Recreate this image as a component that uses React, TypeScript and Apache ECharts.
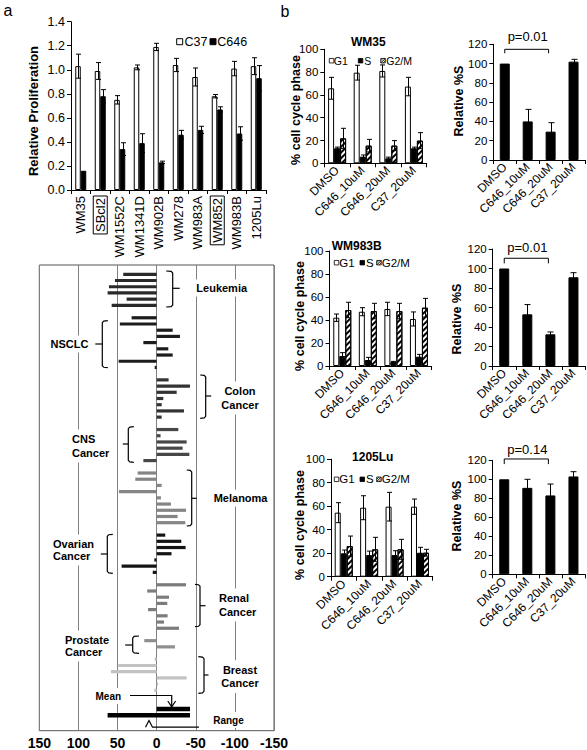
import React, { useEffect, useRef } from 'react';
import * as echarts from 'echarts';

const FONT = '"Liberation Sans", Arial, Helvetica, sans-serif';

// ---------- Panel a (top): relative proliferation ----------
const cellLines = ['WM35', 'SBcl2', 'WM1552C', 'WM1341D', 'WM902B', 'WM278', 'WM983A', 'WM852', 'WM983B', '1205Lu'];
const boxedLines = ['SBcl2', 'WM852'];
const c37 = [1.03, 0.99, 0.75, 1.02, 1.19, 1.04, 0.94, 0.78, 1.01, 1.03];
const c37Err = [0.1, 0.07, 0.035, 0.02, 0.03, 0.055, 0.075, 0.014, 0.06, 0.07];
const c646 = [0.16, 0.78, 0.34, 0.39, 0.23, 0.46, 0.5, 0.67, 0.47, 0.93];
const c646Err = [0, 0.055, 0.053, 0.078, 0.01, 0.036, 0.03, 0.022, 0.056, 0.105];
const propTicks = [0, 1.4, 0.2];

// ---------- Panel a (bottom): NCI-60 mean graph ----------
const leukemia = [42.7, 53.3, 61, 62.7, 38.4, 57.5];
const nsclc = [32, 47, -20.5, -29.8, 17, -14.9, -20.5, 48.6, 2.5];
const colon = [-15.3, -42.6, -25.6, -8.5, -6.4, -34.9, -6.4];
const cns = [-27.7, -5, -38.3, -33.2, -41.8, 17];
const melanoma = [24.3, 27.3, -6.4, 48.2, -5.5, -18.3, -37.5, -26.8, -36.6];
const ovarian = [-11, -31.5, -37, -19, 3, 44.8, 5];
const renal = [-37.5, 12, -15.8, -13.6, 11, -14, -9.4, -28.6];
const prostate = [15.8, -23.4];
const breast = [2.5, 49, 58.4, -38.3, -2, 3];
const panelColors = ['#2a2a2a', '#1c1c1c', '#333333', '#474747', '#858585', '#141414', '#7c7c7c', '#8e8e8e', '#c2c2c2'];
const summaryRow = [71, 72]; // Mean, Range rows
const summaryFrom = [0, 62.7];
const summaryTo = [-42.6, -42.6];
const nciTicks = [-150, 150, 50];

// ---------- Panel b: cell cycle ----------
const treatments = ['DMSO', 'C646_10uM', 'C646_20uM', 'C37_20uM'];

const wm35G1 = [65.8, 79.5, 81, 67.3];
const wm35G1Err = [9.6, 6.5, 5.3, 8.1];
const wm35S = [13.2, 5.8, 4.4, 13.2];
const wm35SErr = [1, 1.5, 1, 1];
const wm35G2M = [21.9, 15.5, 15.5, 19.9];
const wm35G2MErr = [8.8, 5.5, 4.4, 7];
const wm35RelS = [100, 40, 29.4, 102];
const wm35RelSErr = [0, 12.5, 9.3, 2.4];

const wm983bG1 = [42, 47.2, 49.6, 40.9];
const wm983bG1Err = [3.2, 3.5, 5.8, 6.1];
const wm983bS = [8.7, 5.2, 3.5, 8.1];
const wm983bSErr = [2.9, 2.3, 0.5, 2];
const wm983bG2M = [48.7, 47.8, 47.8, 50.7];
const wm983bG2MErr = [6.7, 6.7, 6.7, 8.1];
const wm983bRelS = [100, 53, 32.5, 91];
const wm983bRelSErr = [0, 10, 2.4, 4.7];

const lu1205G1 = [54.5, 58.7, 59.6, 59.6];
const lu1205G1Err = [8.5, 10.2, 12.2, 6.5];
const lu1205S = [19.9, 18.4, 18.4, 20.4];
const lu1205SErr = [2.8, 3.4, 3.7, 4.6];
const lu1205G2M = [26.1, 23.3, 23.3, 20.4];
const lu1205G2MErr = [8.5, 10.2, 8.5, 2.9];
const lu1205RelS = [100, 91, 83, 103];
const lu1205RelSErr = [0, 9, 12, 5];

const pLabels = ['p=0.01', 'p=0.01', 'p=0.14'];
const pBracketY = [114.8, 110.5, 121.4];
const pTickY = [110.7, 105.3, 116];
const pTextY = [128.3, 121.7, 131];

const hatch = {
  symbol: 'rect',
  symbolSize: 1,
  dashArrayX: [1, 0],
  dashArrayY: [2, 2],
  rotation: -Math.PI / 4,
  color: '#000',
};

function errSeries(xi: number, yi: number, vals: number[], errs: number[], offset: number, cap: number) {
  return {
    type: 'custom',
    xAxisIndex: xi,
    yAxisIndex: yi,
    z: 5,
    silent: true,
    data: vals.map((v, i) => [i, v, errs[i]]),
    encode: { x: 0, y: 1 },
    renderItem: (_p: any, api: any) => {
      const i = api.value(0);
      const v = api.value(1);
      const e = api.value(2);
      if (!e) return null;
      const t = api.coord([i, v + e]);
      const b = api.coord([i, v - e]);
      const x = Math.round(t[0] + offset) + 0.5;
      const st = { stroke: '#000', lineWidth: 1 };
      return {
        type: 'group',
        children: [
          { type: 'line', shape: { x1: x, y1: t[1], x2: x, y2: b[1] }, style: st },
          { type: 'line', shape: { x1: x - cap / 2, y1: t[1], x2: x + cap / 2, y2: t[1] }, style: st },
          { type: 'line', shape: { x1: x - cap / 2, y1: b[1], x2: x + cap / 2, y2: b[1] }, style: st },
        ],
      };
    },
  };
}

function pSeries(xi: number, yi: number, k: number) {
  return {
    type: 'custom',
    xAxisIndex: xi,
    yAxisIndex: yi,
    z: 6,
    silent: true,
    clip: false,
    data: [[0, 2, pBracketY[k], pTickY[k], pTextY[k]]],
    encode: { x: [0, 1], y: 2 },
    renderItem: (_p: any, api: any) => {
      const a = api.coord([api.value(0), api.value(2)]);
      const b = api.coord([api.value(1), api.value(2)]);
      const tb = api.coord([api.value(0), api.value(3)]);
      const tt = api.coord([api.value(0), api.value(4)]);
      return {
        type: 'group',
        children: [
          {
            type: 'polyline',
            shape: { points: [[a[0], tb[1]], [a[0], a[1]], [b[0] - 2, a[1]], [b[0] - 2, tb[1]]] },
            style: { stroke: '#000', lineWidth: 1, fill: null },
          },
          {
            type: 'text',
            x: (a[0] + b[0]) / 2,
            y: tt[1],
            style: { text: pLabels[k], fontSize: 13, fontFamily: FONT, fill: '#000', align: 'center', verticalAlign: 'middle' },
          },
        ],
      };
    },
  };
}

function txt(text: string, x: number, y: number, o: any = {}) {
  return {
    type: 'text',
    x,
    y,
    z: 60,
    rotation: o.rotation || 0,
    style: {
      text,
      fontSize: o.size || 12,
      fontWeight: o.bold ? 'bold' : 'normal',
      fontFamily: FONT,
      fill: '#000',
      align: o.align || 'center',
      verticalAlign: 'middle',
      lineHeight: o.lh || undefined,
      backgroundColor: o.bg || undefined,
      padding: o.pad || undefined,
    },
  };
}

function brace(x: number, yTop: number, yBot: number, yMid: number, dir: number, h: number, n: number) {
  return [
    {
      type: 'polyline',
      z: 60,
      shape: {
        points: [
          [x - dir * h, yTop],
          [x - dir * 1.5, yTop + 0.4],
          [x, yTop + 2],
          [x, yBot - 2],
          [x - dir * 1.5, yBot - 0.4],
          [x - dir * h, yBot],
        ],
      },
      style: { stroke: '#000', lineWidth: 1.2, fill: null },
    },
    { type: 'line', z: 60, shape: { x1: x, y1: yMid, x2: x + dir * n, y2: yMid }, style: { stroke: '#000', lineWidth: 1.2 } },
  ];
}

function phaseLegend(x0: number, y: number, size: number, dx: number[]) {
  const s = 4.5;
  const top = y - s / 2;
  return [
    { type: 'rect', z: 60, shape: { x: x0 + dx[0], y: top, width: s, height: s }, style: { fill: '#fff', stroke: '#000', lineWidth: 0.8 } },
    txt('G1', x0 + dx[1], y, { size, align: 'left' }),
    { type: 'rect', z: 60, shape: { x: x0 + dx[2], y: top, width: s, height: s }, style: { fill: '#000', stroke: '#000', lineWidth: 0.8 } },
    txt('S', x0 + dx[3], y, { size, align: 'left' }),
    { type: 'rect', z: 60, shape: { x: x0 + dx[4], y: top, width: s, height: s }, style: { fill: '#fff', stroke: '#000', lineWidth: 0.8 } },
    { type: 'line', z: 61, shape: { x1: x0 + dx[4], y1: top + s, x2: x0 + dx[4] + s, y2: top }, style: { stroke: '#000', lineWidth: 1 } },
    { type: 'line', z: 61, shape: { x1: x0 + dx[4], y1: top + s / 2, x2: x0 + dx[4] + s / 2, y2: top }, style: { stroke: '#000', lineWidth: 0.8 } },
    { type: 'line', z: 61, shape: { x1: x0 + dx[4] + s / 2, y1: top + s, x2: x0 + dx[4] + s, y2: top + s / 2 }, style: { stroke: '#000', lineWidth: 0.8 } },
    txt('G2/M', x0 + dx[5], y, { size, align: 'left' }),
  ];
}

function buildOption() {
  const axisColor = '#000';
  const grids = [
    { left: 71, top: 21.7, width: 195, height: 168.3 },
    { left: 39.3, top: 265, width: 234.7, height: 465.7, show: true, borderColor: '#555', borderWidth: 1, backgroundColor: 'transparent' },
    { left: 324.3, top: 49.3, width: 102.4, height: 114 },
    { left: 493.3, top: 44.3, width: 91.7, height: 115.7 },
    { left: 329.5, top: 251, width: 102.2, height: 115 },
    { left: 492.7, top: 249, width: 92.3, height: 117 },
    { left: 331, top: 459.2, width: 101.7, height: 117.5 },
    { left: 492.7, top: 460.3, width: 92.3, height: 114 },
  ].map((g) => ({ outerBoundsMode: 'none', containLabel: false, ...g }));

  const catAxis = (gi: number, data: string[], rotate: number, size: number, margin: number) => ({
    type: 'category',
    gridIndex: gi,
    data,
    axisLine: { show: true, lineStyle: { color: axisColor, width: 1 } },
    axisTick: { show: true, length: 4, lineStyle: { color: axisColor } },
    splitLine: { show: false },
    axisLabel: { interval: 0, rotate, fontSize: size, color: '#000', margin, fontFamily: FONT },
  });

  const valAxis = (gi: number, max: number, interval: number, size: number, fmt?: (v: number) => string) => ({
    type: 'value',
    gridIndex: gi,
    min: 0,
    max,
    interval,
    axisLine: { show: true, lineStyle: { color: axisColor, width: 1 } },
    axisTick: { show: true, length: 4, lineStyle: { color: axisColor } },
    splitLine: { show: false },
    axisLabel: { fontSize: size, color: '#000', margin: 6, fontFamily: FONT, formatter: fmt },
  });

  const xA0: any = catAxis(0, cellLines, 90, 13, 6);
  xA0.axisLabel.formatter = (v: string) => (boxedLines.includes(v) ? `{b|${v}}` : v);
  xA0.axisLabel.rich = { b: { fontSize: 13, color: '#000', borderColor: '#000', borderWidth: 1, padding: [1, 2, 0, 2], fontFamily: FONT } };

  const xAxis = [
    xA0,
    {
      type: 'value',
      gridIndex: 1,
      min: nciTicks[0],
      max: nciTicks[1],
      interval: nciTicks[2],
      inverse: true,
      axisLine: { show: false },
      axisTick: { show: false },
      splitLine: { show: true, lineStyle: { color: '#808080', width: 1 } },
      axisLabel: { fontSize: 14, fontWeight: 'bold', color: '#000', margin: 5, fontFamily: FONT },
    },
    catAxis(2, treatments, 45, 12, 5),
    catAxis(3, treatments, 45, 12, 5),
    catAxis(4, treatments, 45, 12, 5),
    catAxis(5, treatments, 45, 12, 5),
    catAxis(6, treatments, 45, 12, 5),
    catAxis(7, treatments, 45, 12, 5),
  ];

  const rows = Array.from({ length: 75 }, (_, i) => String(i));
  const yAxis = [
    valAxis(0, propTicks[1], propTicks[2], 12.5, (v: number) => v.toFixed(1)),
    {
      type: 'category',
      gridIndex: 1,
      data: rows,
      inverse: true,
      axisLine: { show: false },
      axisTick: { show: false },
      axisLabel: { show: false },
      splitLine: { show: false },
    },
    valAxis(2, 100, 20, 11.5),
    valAxis(3, 120, 20, 11.5),
    valAxis(4, 100, 20, 11.5),
    valAxis(5, 120, 20, 11.5),
    valAxis(6, 100, 20, 11.5),
    valAxis(7, 120, 20, 11.5),
  ];

  // NCI bar data
  const groups = [leukemia, nsclc, colon, cns, melanoma, ovarian, renal, prostate, breast];
  const nciData: any[] = ['-'];
  groups.forEach((g, gi) => {
    if (gi > 0) nciData.push('-');
    g.forEach((v) => nciData.push({ value: v, itemStyle: { color: panelColors[gi] } }));
  });
  while (nciData.length < rows.length) nciData.push('-');

  const whiteBar = { color: '#fff', borderColor: '#000', borderWidth: 1 };
  const blackBar = { color: '#000', borderColor: '#000', borderWidth: 1 };
  const hatchBar = { color: '#fff', borderColor: '#000', borderWidth: 1, decal: hatch };

  const phaseSet = (xi: number, g1: number[], g1e: number[], s: number[], se: number[], g2: number[], g2e: number[]) => [
    { type: 'bar', xAxisIndex: xi, yAxisIndex: xi, data: g1, barWidth: 6, barGap: '0%', itemStyle: whiteBar },
    { type: 'bar', xAxisIndex: xi, yAxisIndex: xi, data: s, barWidth: 6, barGap: '0%', itemStyle: blackBar },
    { type: 'bar', xAxisIndex: xi, yAxisIndex: xi, data: g2, barWidth: 6, barGap: '0%', itemStyle: hatchBar },
    errSeries(xi, xi, g1, g1e, -6, 5),
    errSeries(xi, xi, s, se, 0, 5),
    errSeries(xi, xi, g2, g2e, 6, 5),
  ];
  const relSet = (xi: number, vals: number[], errs: number[], k: number) => [
    { type: 'bar', xAxisIndex: xi, yAxisIndex: xi, data: vals, barWidth: 10, itemStyle: blackBar },
    errSeries(xi, xi, vals, errs, 0, 6),
    pSeries(xi, xi, k),
  ];

  const series: any[] = [
    { type: 'bar', name: 'C37', xAxisIndex: 0, yAxisIndex: 0, data: c37, barWidth: 5.5, barGap: '0%', itemStyle: whiteBar },
    { type: 'bar', name: 'C646', xAxisIndex: 0, yAxisIndex: 0, data: c646, barWidth: 5.5, barGap: '0%', itemStyle: blackBar },
    errSeries(0, 0, c37, c37Err, -2.75, 5),
    errSeries(0, 0, c646, c646Err, 2.75, 5),
    { type: 'bar', xAxisIndex: 1, yAxisIndex: 1, data: nciData, barWidth: 3.2 },
    {
      type: 'custom',
      xAxisIndex: 1,
      yAxisIndex: 1,
      z: 5,
      data: summaryRow.map((r, i) => [summaryFrom[i], summaryTo[i], r]),
      encode: { x: [0, 1], y: 2 },
      renderItem: (_p: any, api: any) => {
        const a = api.coord([api.value(0), api.value(2)]);
        const b = api.coord([api.value(1), api.value(2)]);
        const h = 4.5;
        return {
          type: 'rect',
          shape: { x: Math.min(a[0], b[0]), y: a[1] - h / 2, width: Math.abs(b[0] - a[0]), height: h },
          style: { fill: '#000' },
        };
      },
    },
    ...phaseSet(2, wm35G1, wm35G1Err, wm35S, wm35SErr, wm35G2M, wm35G2MErr),
    ...relSet(3, wm35RelS, wm35RelSErr, 0),
    ...phaseSet(4, wm983bG1, wm983bG1Err, wm983bS, wm983bSErr, wm983bG2M, wm983bG2MErr),
    ...relSet(5, wm983bRelS, wm983bRelSErr, 1),
    ...phaseSet(6, lu1205G1, lu1205G1Err, lu1205S, lu1205SErr, lu1205G2M, lu1205G2MErr),
    ...relSet(7, lu1205RelS, lu1205RelSErr, 2),
  ];

  const R = Math.PI / 2;
  const bg = { bg: '#fff', pad: [3, 2] };
  const graphic: any[] = [
    txt('a', 8, 10, { size: 16 }),
    txt('b', 285, 11, { size: 16 }),
    // panel a top legend
    { type: 'rect', z: 60, shape: { x: 176.7, y: 38.7, width: 6, height: 6 }, style: { fill: '#fff', stroke: '#000', lineWidth: 1 } },
    txt('C37', 184.5, 41.7, { size: 12.5, align: 'left' }),
    { type: 'rect', z: 60, shape: { x: 210, y: 38.7, width: 6, height: 6 }, style: { fill: '#000', stroke: '#000', lineWidth: 1 } },
    txt('C646', 217.3, 41.7, { size: 12.5, align: 'left' }),
    txt('Relative Proliferation', 33, 111, { size: 13, bold: true, rotation: R }),
    // panel b titles
    txt('WM35', 368.3, 42.3, { size: 12, bold: true }),
    txt('WM983B', 356.7, 246, { size: 12, bold: true }),
    txt('1205Lu', 372.7, 456.7, { size: 12, bold: true }),
    txt('% cell cycle phase', 296, 110, { size: 12.5, bold: true, rotation: R }),
    txt('% cell cycle phase', 300, 316, { size: 12.5, bold: true, rotation: R }),
    txt('% cell cycle phase', 300, 525, { size: 12.5, bold: true, rotation: R }),
    txt('Relative %S', 459, 101, { size: 12.5, bold: true, rotation: R }),
    txt('Relative %S', 457, 319, { size: 12.5, bold: true, rotation: R }),
    txt('Relative %S', 457, 516, { size: 12.5, bold: true, rotation: R }),
    ...phaseLegend(329.3, 60.7, 10.5, [0, 4.5, 29, 35, 51.5, 57]),
    ...phaseLegend(334.3, 262.7, 11.5, [0, 5, 25.7, 31.7, 42.4, 47.4]),
    ...phaseLegend(334.3, 479.3, 11.5, [0, 5, 25.7, 31.7, 42.4, 47.4]),
    // NCI panel labels
    txt('Leukemia', 221.7, 288, { size: 11, bold: true, ...bg }),
    txt('NSCLC', 69.5, 344, { size: 11, bold: true, ...bg }),
    txt('Colon\nCancer', 240, 398, { size: 11, bold: true, lh: 13.4, ...bg }),
    txt('CNS\nCancer', 70, 446, { size: 11, bold: true, lh: 13.4, align: 'left', ...bg }),
    txt('Melanoma', 211.7, 498.3, { size: 11, bold: true, align: 'left', ...bg }),
    txt('Ovarian\nCancer', 51, 550, { size: 11, bold: true, lh: 12.6, align: 'left', ...bg }),
    txt('Renal\nCancer', 217, 605, { size: 11, bold: true, lh: 13.4, align: 'left', ...bg }),
    txt('Prostate\nCancer', 63, 646, { size: 11, bold: true, lh: 12.4, align: 'left', ...bg }),
    txt('Breast\nCancer', 240, 676.7, { size: 11, bold: true, lh: 13.4, ...bg }),
    txt('Mean', 108.3, 696, { size: 10, bold: true, ...bg }),
    txt('Range', 228.5, 720, { size: 10, bold: true, ...bg }),
    ...brace(172.7, 271, 307, 288.3, 1, 6.5, 7),
    ...brace(102.3, 320.7, 367.7, 344, -1, 5.5, 7),
    ...brace(205.7, 375, 418.3, 396, 1, 5.5, 5.5),
    ...brace(128.3, 426.7, 462.3, 444, -1, 5.5, 5.5),
    ...brace(191.7, 470, 526, 498.3, 1, 5, 5),
    ...brace(107.3, 534.3, 573.3, 554, -1, 5.5, 6.5),
    ...brace(200, 584.3, 626.7, 605.7, 1, 5, 5.5),
    ...brace(132.7, 636, 653.3, 645, -1, 6.3, 7.5),
    ...brace(204, 656.7, 693.3, 675, 1, 5.7, 4.5),
    // Mean arrow
    { type: 'polyline', z: 60, shape: { points: [[130, 695.5], [171.7, 695.5], [171.7, 706.5]] }, style: { stroke: '#000', lineWidth: 1.2, fill: null } },
    { type: 'polyline', z: 60, shape: { points: [[167.8, 701], [171.7, 706.8], [175.6, 701]] }, style: { stroke: '#000', lineWidth: 1.2, fill: null } },
    // Range arrow
    { type: 'polyline', z: 60, shape: { points: [[145.5, 727.2], [149, 720.5], [152.5, 727.2], [199, 727.2]] }, style: { stroke: '#000', lineWidth: 1.2, fill: null } },
  ];

  return {
    animation: false,
    backgroundColor: '#fff',
    textStyle: { fontFamily: FONT },
    grid: grids,
    xAxis,
    yAxis,
    series,
    graphic,
  };
}

export default function App() {
  const ref = useRef<HTMLDivElement>(null);
  useEffect(() => {
    if (!ref.current) return;
    const chart = echarts.init(ref.current, null, { renderer: 'svg', width: 587, height: 750 });
    chart.setOption(buildOption() as any);
    return () => chart.dispose();
  }, []);
  return (
    <div
      ref={ref}
      style={{ position: 'fixed', left: 0, top: 0, width: 587, height: 750, background: '#fff' }}
    />
  );
}
